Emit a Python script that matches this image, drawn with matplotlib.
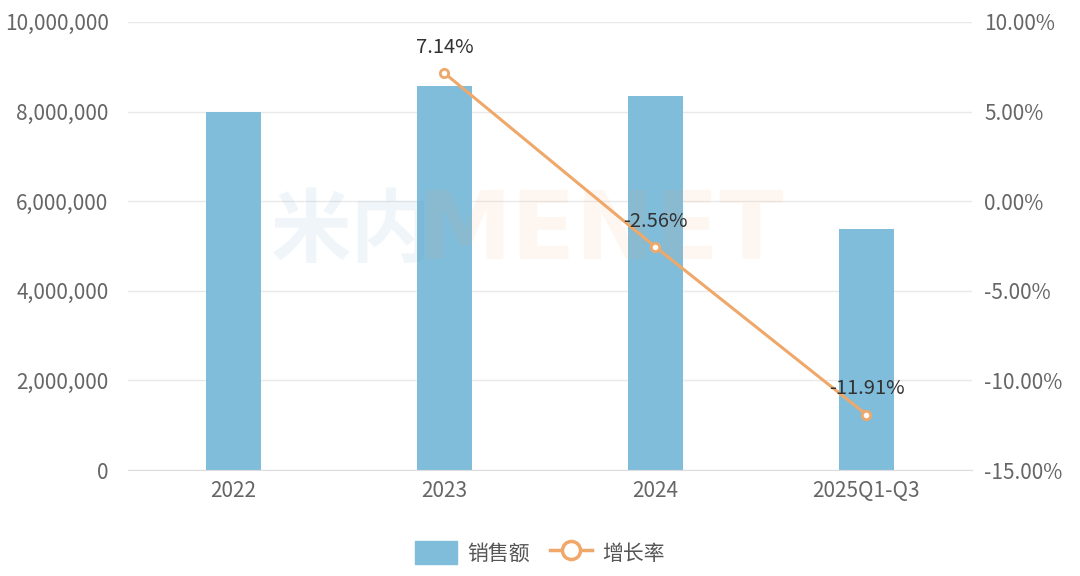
import numpy as np
import matplotlib.pyplot as plt
from matplotlib.lines import Line2D
from matplotlib.patches import Patch
from matplotlib.ticker import FuncFormatter

plt.rcParams['font.family'] = ['Noto Sans CJK SC', 'DejaVu Sans']

categories = ['2022', '2023', '2024', '2025Q1-Q3']
sales = [7990000, 8560000, 8350000, 5380000]
growth_cats = ['2023', '2024', '2025Q1-Q3']
growth = [7.14, -2.56, -11.91]
growth_labels = ['7.14%', '-2.56%', '-11.91%']

bar_color = '#7FBDDA'
line_color = '#EFA86A'
tick_color = '#666666'
grid_color = '#E9E9E9'

fig = plt.figure(figsize=(10.8, 5.76), dpi=100)
ax = fig.add_axes([0.1185, 0.184, 0.7815, 0.778])
ax2 = ax.twinx()

x = np.arange(len(categories))
ax.bar(x, sales, width=0.26, color=bar_color, zorder=2)
ax.set_xlim(-0.5, len(categories) - 0.5)
ax.set_ylim(0, 10000000)
ax.set_yticks(np.arange(0, 10000001, 2000000))
ax.yaxis.set_major_formatter(FuncFormatter(lambda v, p: f'{int(v):,}'))
ax.set_xticks(x)
ax.set_xticklabels(categories)
ax.grid(axis='y', color=grid_color, linewidth=1, zorder=0)
ax.set_axisbelow(True)

# faint watermark, on top of the bars
ax.text(0.325, 0.5955, '米内', transform=fig.transFigure, fontsize=58, fontweight='bold',
        color='#5B9BC0', alpha=0.09, ha='center', va='center', zorder=5)
ax.text(0.556, 0.5955, 'MENET', transform=fig.transFigure, fontsize=68, fontweight='bold',
        family='DejaVu Sans', color='#F4A46A', alpha=0.09,
        ha='center', va='center', zorder=5)

gx = [categories.index(c) for c in growth_cats]
ax2.plot(gx, growth, color=line_color, linewidth=2.2, marker='o', markersize=6,
         markerfacecolor='white', markeredgecolor=line_color, markeredgewidth=2, zorder=3)
for xi, yi, lab in zip(gx, growth, growth_labels):
    ax2.annotate(lab, (xi, yi), xytext=(0, 11), textcoords='offset points',
                 ha='center', va='bottom', fontsize=14.5, color='#333333')
ax2.set_ylim(-15, 10)
ax2.set_yticks(np.arange(-15, 10.1, 5))
ax2.yaxis.set_major_formatter(FuncFormatter(lambda v, p: f'{v:.2f}%'))

for a in (ax, ax2):
    for s in a.spines.values():
        s.set_visible(False)
    a.tick_params(length=0, colors=tick_color, labelsize=15)
ax.spines['bottom'].set_visible(True)
ax.spines['bottom'].set_color('#DDDDDD')
ax.tick_params(axis='y', pad=14)
ax.tick_params(axis='x', pad=7)
ax2.tick_params(axis='y', pad=9)

handles = [
    Patch(facecolor=bar_color, edgecolor=bar_color),
    Line2D([0], [0], color=line_color, linewidth=2.5, marker='o', markersize=13,
           markerfacecolor='white', markeredgecolor=line_color, markeredgewidth=2.5),
]
fig.legend(handles, ['销售额', '增长率'], loc='center', bbox_to_anchor=(0.5, 0.04),
           ncol=2, frameon=False, fontsize=15, labelcolor='#555555',
           handlelength=2.0, handleheight=1.3, columnspacing=1.0, handletextpad=0.5)

fig.savefig('out.png', dpi=100)
